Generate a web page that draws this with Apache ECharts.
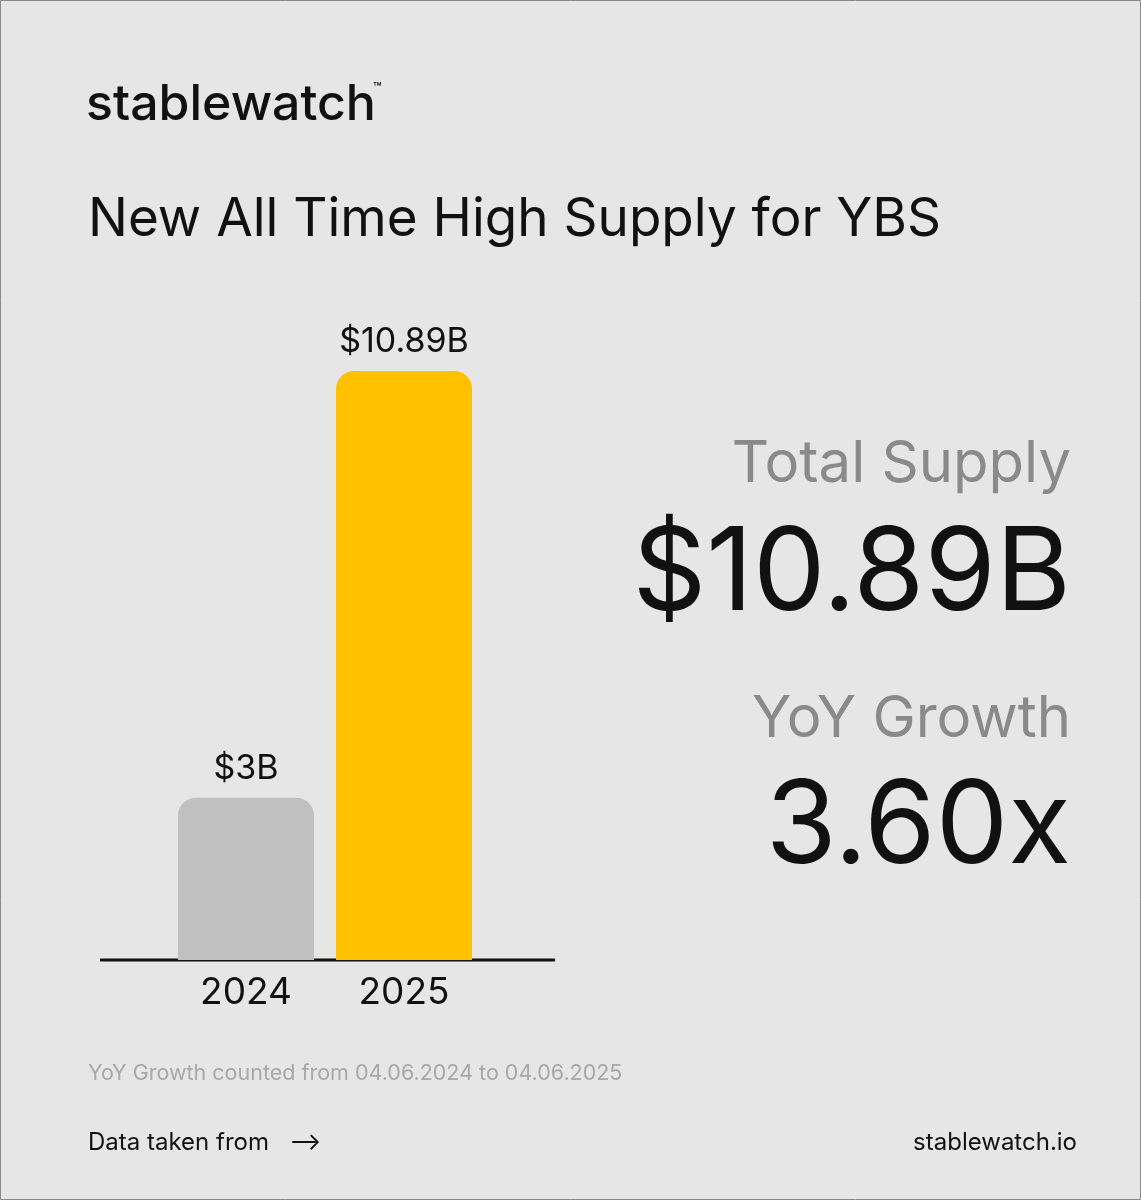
<!DOCTYPE html><html><head><meta charset="utf-8">
<script src="https://cdn.jsdelivr.net/npm/echarts@6/dist/echarts.min.js"></script>
<style>html,body{margin:0;padding:0;background:#e6e6e6}#c{width:1141px;height:1200px}</style></head><body>
<div id="c"></div>
<script>
const categories=['2024','2025'];
const values=[3,10.89];
const labels=['$3B','$10.89B'];
const colors=['#c0c0c0','#ffc000'];
const F='Inter, "Noto Sans", sans-serif';
const chart=echarts.init(document.getElementById('c'));
const T=(x,y,text,size,color,align,weight)=>({type:'text',x:x,y:y,style:{text:text,font:(weight||400)+' '+size+'px '+F,fill:color,textAlign:align||'left',textVerticalAlign:'middle'}});
chart.setOption({
backgroundColor:'#e6e6e6',
animation:false,
grid:{left:167,right:1141-483,top:371,bottom:240},
xAxis:{type:'category',data:categories,axisLine:{show:false},axisTick:{show:false},
 axisLabel:{color:'#111',fontSize:37,fontFamily:F,margin:14}},
yAxis:{type:'value',min:0,max:10.89,show:false,splitLine:{show:false}},
series:[{type:'bar',barWidth:136,
 data:values.map((v,i)=>({value:v,itemStyle:{color:colors[i],borderRadius:[18,18,0,0]},
  label:{show:true,position:'top',formatter:labels[i],color:'#111',fontSize:34,fontFamily:F,distance:12}}))}],
graphic:[
 {type:'rect',shape:{x:0.5,y:0.5,width:1140,height:1199},style:{fill:'none',stroke:'#888',lineWidth:1}},
 {type:'line',shape:{x1:100,y1:960,x2:555,y2:960},style:{stroke:'#111',lineWidth:3}},
 T(86,105,'stablewatch',50,'#111','left',500),
 T(373,89,'™',14,'#111','left',500),
 T(88,220,'New All Time High Supply for YBS',53,'#111'),
 T(1071,465,'Total Supply',58,'#8a8a8a','right'),
 T(1071,575,'$10.89B',115,'#111','right'),
 T(1071,828,'3.60x',115,'#111','right'),
 T(1071,720,'YoY Growth',58,'#8a8a8a','right'),
 T(88,1074,'YoY Growth counted from 04.06.2024 to 04.06.2025',21.5,'#a8a8a8'),
 T(88,1143,'Data taken from   ⟶',24,'#111'),
 T(1077,1143,'stablewatch.io',24,'#111','right')
]});
</script></body></html>
